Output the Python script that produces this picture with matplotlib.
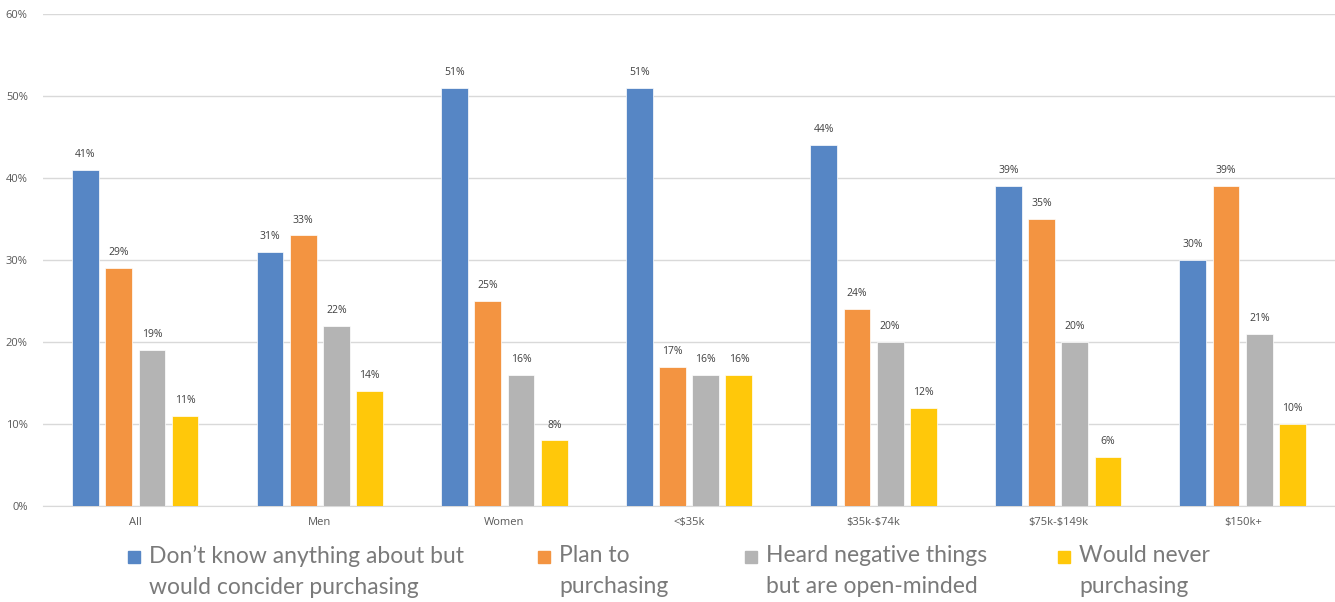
import numpy as np
import matplotlib.pyplot as plt
from matplotlib.patches import Rectangle

# chart data
categories = ['All', 'Men', 'Women', '<$35k', '$35k-$74k', '$75k-$149k', '$150k+']
dont_know = [41, 31, 51, 51, 44, 39, 30]
plan_to = [29, 33, 25, 17, 24, 35, 39]
heard_negative = [19, 22, 16, 16, 20, 20, 21]
would_never = [11, 14, 8, 16, 12, 6, 10]

series_names = ['Don\u2019t know anything about but\nwould concider purchasing',
                'Plan to\npurchasing',
                'Heard negative things\nbut are open-minded',
                'Would never\npurchasing']
colors = ['#5686C5', '#F39441', '#B4B4B4', '#FFC80A']

series = [dont_know, plan_to, heard_negative, would_never]

plt.rcParams['text.parse_math'] = False

fig = plt.figure(figsize=(13.35, 6.02), dpi=100)
ax = fig.add_axes([0.0322, 0.1595, 0.9678, 0.8172])

x = np.arange(len(categories))
pitch = 0.18
width = 0.145
for i, (vals, col) in enumerate(zip(series, colors)):
    pos = x + (i - 1.5) * pitch
    bars = ax.bar(pos, vals, width=width, color=col, edgecolor='white', linewidth=0.5, zorder=3)
    for b, v in zip(bars, vals):
        ax.annotate(f'{v}%', (b.get_x() + b.get_width() / 2, v), xytext=(0, 7),
                    textcoords='offset points', ha='center', va='bottom',
                    fontsize=7.5, color='#404040', family='Open Sans')

ax.set_xlim(-0.5, len(categories) - 0.5)
ax.set_ylim(0, 60)
ax.set_yticks(range(0, 61, 10))
ax.set_yticklabels([f'{t}%' for t in range(0, 61, 10)], family='Open Sans', fontsize=8, color='#595959')
ax.set_xticks(x)
ax.set_xticklabels(categories, family='Open Sans', fontsize=8, color='#595959')
ax.tick_params(axis='both', length=0)
ax.tick_params(axis='y', pad=11)
ax.tick_params(axis='x', pad=8)
ax.grid(axis='y', color='#D9D9D9', linewidth=1, zorder=0)
for s in ['top', 'right', 'left']:
    ax.spines[s].set_visible(False)
ax.spines['bottom'].set_color('#D9D9D9')

# legend drawn by hand to match the two-line layout
leg_x = [128, 538, 745, 1058]
W, H = 1335, 602
for lx, name, col in zip(leg_x, series_names, colors):
    fig.patches.append(Rectangle((lx / W, 1 - 563 / H), 12 / W, 12 / H,
                                 transform=fig.transFigure, color=col))
    fig.text((lx + 21) / W, 1 - 545 / H, name, ha='left', va='top',
             fontsize=16.5, color='#7A7A7A', family='Lato', fontweight='normal',
             linespacing=1.6)

fig.savefig('out.png', dpi=100)
